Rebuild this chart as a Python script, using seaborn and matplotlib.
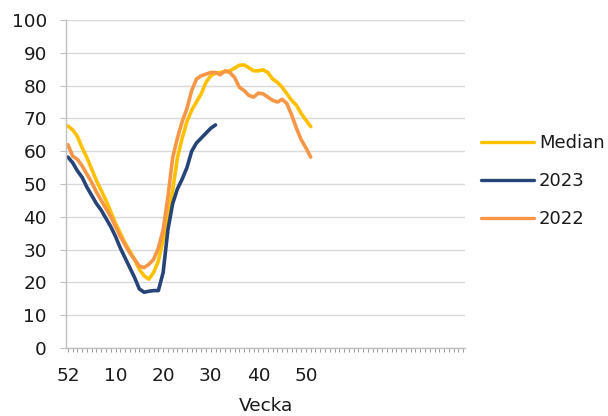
import matplotlib
matplotlib.use("Agg")
import matplotlib.pyplot as plt
import numpy as np
import pandas as pd
import seaborn as sns

# Weekly values, index 0 = week 52 of the previous year, then weeks 1, 2, ...
median = [67.7, 66.5, 64.5, 61.0, 58.0, 54.5, 51.0, 48.0, 45.0, 41.5,
          38.0, 35.0, 32.0, 29.5, 27.0, 24.0, 22.0, 21.0, 23.0, 26.5,
          33.0, 40.0, 48.0, 58.0, 64.0, 69.0, 72.5, 75.0, 77.5, 81.0,
          83.0, 83.8, 84.0, 84.2, 84.5, 85.3, 86.2, 86.3, 85.5, 84.5,
          84.5, 84.8, 84.0, 82.0, 81.0, 79.5, 77.5, 75.5, 74.0, 71.5,
          69.5, 67.5]
y2023 = [58.2, 56.5, 54.0, 52.0, 49.0, 46.5, 44.0, 42.0, 39.5, 37.0,
         34.0, 30.5, 27.5, 24.5, 21.5, 18.0, 17.0, 17.3, 17.5, 17.5,
         23.0, 36.0, 44.0, 48.5, 51.5, 55.0, 60.0, 62.5, 64.0, 65.5,
         67.0, 68.0]
y2022 = [62.0, 58.5, 57.5, 55.5, 53.0, 50.5, 47.5, 45.0, 42.5, 40.0,
         37.0, 34.0, 31.5, 29.0, 27.0, 25.0, 24.5, 25.5, 27.0, 30.5,
         36.0, 46.0, 58.0, 64.0, 69.0, 73.0, 78.5, 82.0, 83.0, 83.5,
         84.0, 84.0, 83.3, 84.5, 84.0, 82.5, 79.5, 78.5, 77.0, 76.5,
         77.7, 77.5, 76.5, 75.5, 75.0, 75.8, 74.5, 71.0, 67.0, 63.5,
         61.0, 58.2]

series_names = ["Median", "2023", "2022"]
series_colors = ["#FFC000", "#264478", "#F79646"]
tick_positions = [0, 10, 20, 30, 40, 50]
tick_labels = ["52", "10", "20", "30", "40", "50"]

frames = []
for name, vals in zip(series_names, [median, y2023, y2022]):
    frames.append(pd.DataFrame({"idx": np.arange(len(vals)),
                                "value": vals, "serie": name}))
df = pd.concat(frames, ignore_index=True)

sns.set_style("white")
plt.rcParams["font.family"] = ["DejaVu Sans"]

fig = plt.figure(figsize=(6.08, 4.16), dpi=100)
ax = fig.add_axes([66 / 608, 1 - 348 / 416, (465 - 66) / 608, (348 - 20) / 416])

sns.lineplot(data=df, x="idx", y="value", hue="serie",
             hue_order=series_names, palette=series_colors,
             linewidth=2.6, ax=ax, legend=False)

ax.set_ylim(0, 100)
ax.set_xlim(-0.4, 83.4)
ax.set_yticks(range(0, 101, 10))
ax.set_xticks(tick_positions)
ax.set_xticklabels(tick_labels)
ax.set_xticks(np.arange(0, 84), minor=True)

ax.grid(axis="y", color="#D9D9D9", linewidth=1.0)
ax.set_axisbelow(True)
for side in ["top", "right"]:
    ax.spines[side].set_visible(False)
for side in ["left", "bottom"]:
    ax.spines[side].set_color("#BFBFBF")
    ax.spines[side].set_linewidth(1.0)

ax.tick_params(axis="y", which="major", direction="out", length=4.3,
               width=0.8, color="#BFBFBF", labelsize=13.3, pad=9.5,
               labelcolor="#1a1a1a", left=True)
ax.tick_params(axis="x", which="both", direction="out", length=3,
               width=0.7, color="#9A9A9A", bottom=True)
ax.tick_params(axis="x", which="major", labelsize=13.3, pad=11,
               labelcolor="#1a1a1a")

ax.set_xlabel("Vecka", fontsize=13.3, color="#1a1a1a", labelpad=8)
ax.set_ylabel("")

handles = [plt.Line2D([], [], color=c, linewidth=2.4) for c in series_colors]
fig.legend(handles, series_names, loc="upper left",
           bbox_to_anchor=(465 / 608, 1 - 118 / 416), frameon=False,
           fontsize=13, handlelength=2.9, handletextpad=0.3,
           labelspacing=1.1, labelcolor="#1a1a1a")

fig.savefig("out.png", dpi=100)
